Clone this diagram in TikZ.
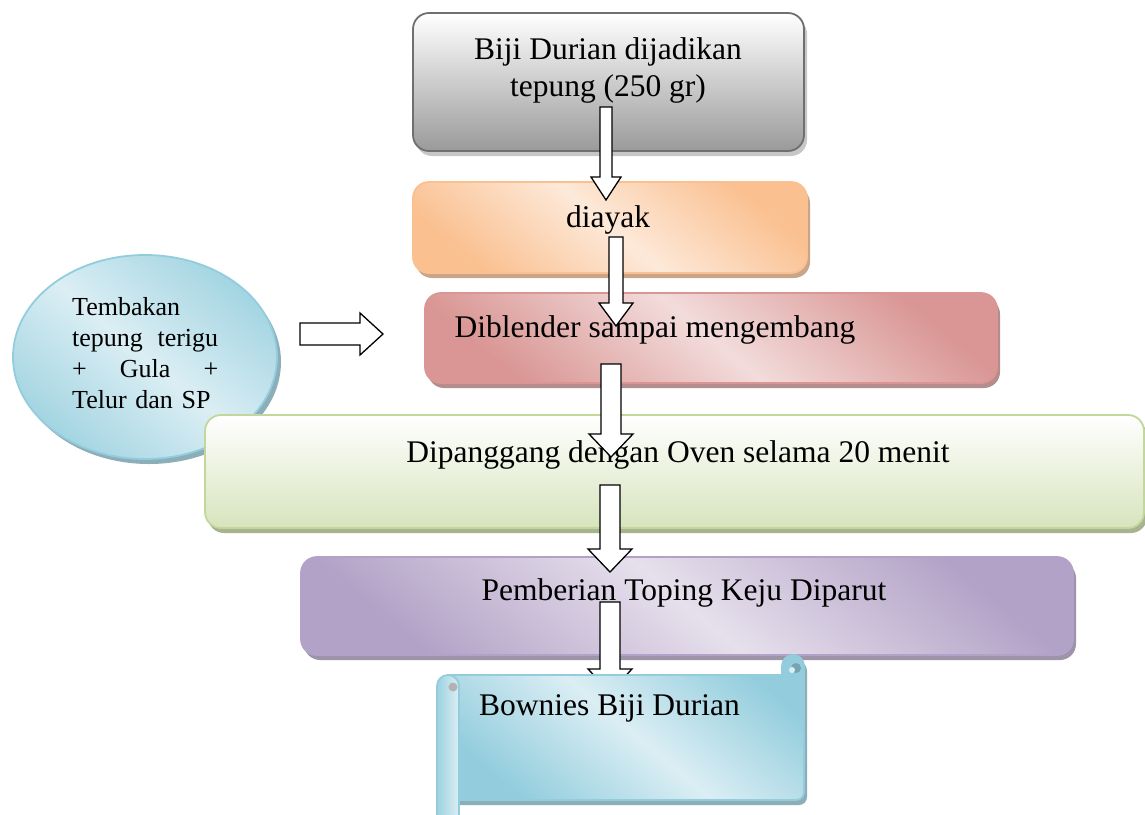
\documentclass[tikz,border=0pt]{standalone}
\usepackage{fontspec}
\setmainfont{Liberation Serif}
\usetikzlibrary{calc,shadows,shapes.geometric}

\definecolor{abuTepi}{HTML}{6F6F6F}
\definecolor{abuGelap}{HTML}{9A9A9A}
\definecolor{oranyeMuda}{HTML}{FDE9D9}
\definecolor{oranyeTua}{HTML}{FAC090}
\definecolor{merahMuda}{HTML}{F2DCDB}
\definecolor{merahTua}{HTML}{D99694}
\definecolor{hijauTua}{HTML}{D7E4BD}
\definecolor{hijauTepi}{HTML}{C3D69B}
\definecolor{unguMuda}{HTML}{E6E0EC}
\definecolor{unguTua}{HTML}{B3A2C7}
\definecolor{biruMuda}{HTML}{DBEEF4}
\definecolor{biruTua}{HTML}{93CDDD}

\tikzset{
  kotak/.style 2 args={rectangle, rounded corners=16pt, draw=#1, line width=1.8pt, inner sep=0pt,
    drop shadow={shadow xshift=3pt, shadow yshift=-5pt, fill=#2, opacity=1}},
  efek/.style 2 args={top color=#1, bottom color=#1, middle color=#2, shading angle=-40},
  teks/.style={inner sep=0pt, font=\fontsize{31.5}{37}\selectfont},
  panah/.style={draw=black, fill=white, line width=1.3pt, line join=miter},
}

% block arrow: #1 half shaft, #2 half head, #3 start, #4 tip
\newcommand{\blokpanah}[4]{%
  \coordinate (hb) at ($(#4)!23pt!(#3)$);
  \draw[panah] ($(#3)!#1!90:(#4)$) -- ($(hb)!#1!90:(#4)$) -- ($(hb)!#2!90:(#4)$) -- (#4)
    -- ($(hb)!#2!-90:(#4)$) -- ($(hb)!#1!-90:(#4)$) -- ($(#3)!#1!-90:(#4)$) -- cycle;
}

\begin{document}
\begin{tikzpicture}[x=1pt, y=-1pt]
\clip (0,0) rectangle (1145,814);

% bahan tambahan
\node[ellipse, minimum width=264pt, minimum height=204pt, draw=biruTua, line width=1.8pt,
  efek={biruTua!85}{biruMuda},
  drop shadow={shadow xshift=4pt, shadow yshift=-5pt, fill=biruTua!60!gray, opacity=1}] (bahan) at (145,357) {};
\node[inner sep=0pt, anchor=base west, text width=146pt, align=left,
  font=\fontsize{26}{31.3}\selectfont] (isi) at (72,315)
  {Tembakan\\ tepung\hfill terigu\\ +\hfill Gula\hfill +\\ Telur dan SP};

% langkah-langkah
\node[kotak={abuTepi}{abuGelap!55!white}, top color=white, bottom color=abuGelap,
  minimum width=391pt, minimum height=138pt] (tepung) at (608.5,82) {};
\node[teks, anchor=base, align=center] at (608,96) {Biji Durian dijadikan\\tepung (250 gr)};

\node[kotak={oranyeTua}{oranyeTua!60!gray}, efek={oranyeTua}{oranyeMuda},
  minimum width=394pt, minimum height=91pt] (ayak) at (610,227.5) {};
\node[teks, anchor=base] at (608,227) {diayak};

\node[kotak={merahTua}{merahTua!60!gray}, efek={merahTua}{merahMuda},
  minimum width=572pt, minimum height=90pt] (blender) at (711,338) {};
\node[teks, anchor=base] at (655,337) {Diblender sampai mengembang};

\node[kotak={hijauTepi}{hijauTepi!60!gray}, top color=white, bottom color=hijauTua,
  minimum width=939pt, minimum height=113pt] (oven) at (674.5,471.5) {};
\node[teks, anchor=base] at (678,462) {Dipanggang dengan Oven selama 20 menit};

\node[kotak={unguTua}{unguTua!60!gray}, efek={unguTua}{unguMuda},
  minimum width=772pt, minimum height=98pt] (keju) at (687,606) {};
\node[teks, anchor=base] at (684,600) {Pemberian Toping Keju Diparut};

% panah
\coordinate (a1) at (606,107); \coordinate (b1) at (606,200);
\coordinate (a2) at (616,237); \coordinate (b2) at (616,326);
\coordinate (a3) at (611,364); \coordinate (b3) at (611,457);
\coordinate (a4) at (610,485); \coordinate (b4) at (610,572);
\coordinate (a5) at (610,602); \coordinate (b5) at (610,692);
\coordinate (h1) at (300,334); \coordinate (h2) at (383,334);
\blokpanah{6pt}{15pt}{a1}{b1}
\blokpanah{7pt}{17pt}{a2}{b2}
\blokpanah{10pt}{22pt}{a3}{b3}
\blokpanah{10pt}{22pt}{a4}{b4}
\blokpanah{11pt}{21pt}{h1}{h2}
\blokpanah{10pt}{22pt}{a5}{b5}

% gulungan hasil
\path[draw=biruTua, line width=1.8pt, efek={biruTua}{biruMuda},
  drop shadow={shadow xshift=3pt, shadow yshift=-5pt, fill=biruTua!60!gray, opacity=1}]
  (448,675) -- (782,675) -- (782,666) arc[start angle=180, end angle=360, radius=11]
  -- (804,792) arc[start angle=0, end angle=90, radius=8] -- (460,800) -- (448,800) -- cycle;
\fill[biruTua!80!black] (796,668) circle (5);
\fill[biruMuda] (792,670) circle (3);
\path[draw=biruTua, line width=1.8pt, left color=biruTua!90, right color=biruMuda]
  (437,686) arc[start angle=180, end angle=360, radius=11] -- (459,830) -- (437,830) -- cycle;
\fill[gray!60] (453,687) circle (4.5);
\node[teks, anchor=base west] at (479,715) {Bownies Biji Durian};
\end{tikzpicture}
\end{document}
